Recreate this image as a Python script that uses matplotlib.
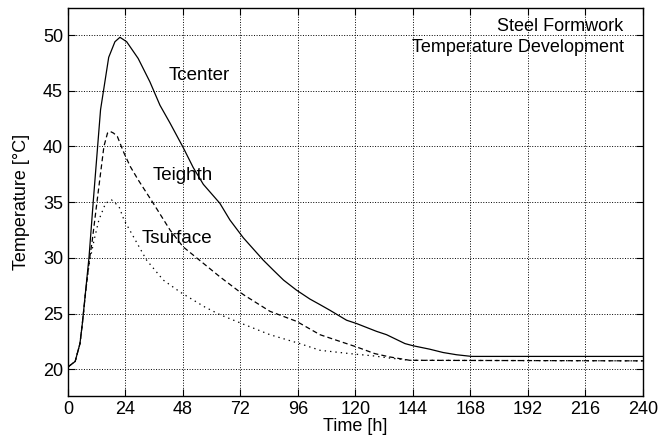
import matplotlib
matplotlib.use("Agg")
import matplotlib.pyplot as plt

plt.rcParams['font.family'] = ['Liberation Sans', 'DejaVu Sans']

# Tcenter (solid)
t_center = [0, 3, 5, 6, 7.4, 8.8, 10.6, 13.6, 17, 19.6, 21.7, 24.5, 29.3, 34.2, 38.4,
            42.6, 48.1, 52.3, 56.5, 63.4, 67.6, 73.2, 81.5, 85.7, 90, 95.4, 101, 105.2,
            109.3, 116.3, 120.5, 128.8, 133, 140.7, 144.2, 151, 156.6, 162.2, 168.5, 240]
T_center = [20.2, 20.7, 22.3, 24.1, 27.1, 30.1, 35.2, 43.3, 48.0, 49.4, 49.8, 49.4, 47.9,
            45.8, 43.7, 42.1, 39.9, 38.1, 36.6, 34.9, 33.4, 31.8, 29.8, 28.9, 28.0, 27.1,
            26.3, 25.8, 25.3, 24.4, 24.1, 23.4, 23.1, 22.3, 22.1, 21.8, 21.5, 21.3,
            21.15, 21.15]

# Teighth (dashed)
t_eighth = [0, 3, 5, 6, 7.4, 8.8, 10.1, 12.5, 15.0, 16.5, 17.6, 19.0, 20.6, 23.4, 26,
            29.3, 35.6, 42.6, 48, 53.7, 63.4, 73.2, 84.3, 95.4, 105.2, 113.5, 120.5,
            128.1, 134.4, 142.7, 240]
T_eighth = [20.2, 20.7, 22.3, 24.1, 27.0, 29.6, 31.5, 35.7, 40.0, 41.2, 41.35, 41.2, 40.9,
            39.4, 38.2, 37.0, 34.9, 32.5, 31.0, 30.0, 28.3, 26.7, 25.2, 24.3, 23.1, 22.5,
            22.0, 21.4, 21.1, 20.8, 20.75]

# Tsurface (dotted)
t_surface = [0, 3, 5, 6, 7.4, 8.8, 10.9, 12.9, 15.7, 18.2, 21.3, 23.4, 28.1, 32.8, 39.8,
             47, 57, 63.4, 72, 84.3, 96.8, 105.2, 117.7, 127.4, 134.4, 142.7, 240]
T_surface = [20.2, 20.7, 22.3, 24.1, 27.0, 29.4, 31.6, 33.4, 34.9, 35.2, 34.6, 33.4, 31.6,
             29.8, 28.0, 26.9, 25.6, 24.9, 24.15, 23.1, 22.3, 21.7, 21.4, 21.2, 21.0,
             20.8, 20.75]

x_ticks = [0, 24, 48, 72, 96, 120, 144, 168, 192, 216, 240]
y_ticks = [20, 25, 30, 35, 40, 45, 50]

fig = plt.figure(figsize=(6.6, 4.38), dpi=100)
ax = fig.add_axes([0.103, 0.096, 0.871, 0.885])

ax.plot(t_center, T_center, color='k', lw=0.9, ls='-')
ax.plot(t_eighth, T_eighth, color='k', lw=0.9, dashes=(4, 2.5))
ax.plot(t_surface, T_surface, color='k', lw=0.9, dashes=(1.1, 3.2))

ax.set_xlim(0, 240)
ax.set_ylim(17.6, 52.4)
ax.set_xticks(x_ticks)
ax.set_yticks(y_ticks)
ax.tick_params(direction='in', top=True, right=True, length=5, labelsize=13, width=0.8)
ax.grid(True, color='k', ls=':', lw=0.7)
for s in ax.spines.values():
    s.set_linewidth(1.0)

ax.set_xlabel('Time [h]', fontsize=13, labelpad=0)
ax.set_ylabel('Temperature [°C]', fontsize=13, labelpad=9)

ax.text(54.7, 46.4, 'Tcenter', fontsize=13.5, ha='center', va='center')
ax.text(48, 37.4, 'Teighth', fontsize=13.5, ha='center', va='center')
ax.text(45.5, 31.7, 'Tsurface', fontsize=13.5, ha='center', va='center')
ax.text(232, 51.55, 'Steel Formwork\nTemperature Development', fontsize=13,
        ha='right', va='top', linespacing=1.3)

fig.savefig('out.png', dpi=100)
